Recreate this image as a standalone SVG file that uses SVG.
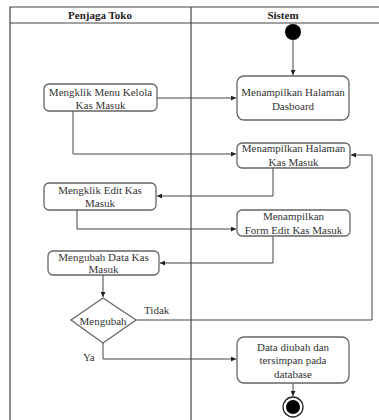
<svg xmlns="http://www.w3.org/2000/svg" width="379" height="420" viewBox="0 0 379 420">
  <style>
    .lane { fill: none; stroke: #444; stroke-width: 1.2; }
    .head { font-family: "Liberation Serif", serif; font-size: 11px; font-weight: bold; fill: #222; text-anchor: middle; }
    .box { fill: #fff; stroke: #666; stroke-width: 1.3; }
    .txt { font-family: "Liberation Serif", serif; font-size: 11px; fill: #333; text-anchor: middle; }
    .lbl { font-family: "Liberation Serif", serif; font-size: 11px; fill: #333; }
    .edge { fill: none; stroke: #444; stroke-width: 1; }
  </style>
  <defs>
    <marker id="arrow" viewBox="0 0 6 6" refX="6" refY="3" markerWidth="5" markerHeight="5" orient="auto">
      <path d="M0,0 L6,3 L0,6 Z" fill="#222"/>
    </marker>
  </defs>
  <rect width="379" height="420" fill="#fff"/>

  <!-- swimlanes -->
  <g id="swimlanes">
    <path class="lane" d="M10,420 V7 H379 M10,23 H379 M191,7 V420"/>
    <text class="head" x="100" y="19">Penjaga Toko</text>
    <text class="head" x="283" y="19">Sistem</text>
  </g>

  <!-- connectors -->
  <g id="connectors">
    <path class="edge" d="M293,40 V75" marker-end="url(#arrow)"/>
    <path class="edge" d="M157,98 H236" marker-end="url(#arrow)"/>
    <path class="edge" d="M73,111 V154 H236" marker-end="url(#arrow)"/>
    <path class="edge" d="M273,168 V196 H157" marker-end="url(#arrow)"/>
    <path class="edge" d="M77,210 V229 H236" marker-end="url(#arrow)"/>
    <path class="edge" d="M273,236 V263 H160" marker-end="url(#arrow)"/>
    <path class="edge" d="M103,275 V297" marker-end="url(#arrow)"/>
    <path class="edge" d="M136,320 H372 V155 H351" marker-end="url(#arrow)"/>
    <path class="edge" d="M103,343 V359 H236" marker-end="url(#arrow)"/>
    <path class="edge" d="M293,383 V396" marker-end="url(#arrow)"/>
    <text class="lbl" x="144" y="314">Tidak</text>
    <text class="lbl" x="83" y="361">Ya</text>
  </g>

  <g id="start">
    <circle cx="293" cy="32" r="8" fill="#000"/>
  </g>

  <g id="tampil-dasboard">
    <rect class="box" x="237" y="76" width="112" height="44" rx="7"/>
    <text class="txt" x="293" y="96">Menampilkan Halaman</text>
    <text class="txt" x="293" y="110">Dasboard</text>
  </g>

  <g id="klik-menu-kelola">
    <rect class="box" x="44" y="84" width="113" height="27" rx="5"/>
    <text class="txt" x="100.5" y="96">Mengklik Menu Kelola</text>
    <text class="txt" x="100.5" y="109">Kas Masuk</text>
  </g>

  <g id="tampil-kas-masuk">
    <rect class="box" x="237" y="143" width="113" height="25" rx="5"/>
    <text class="txt" x="293.5" y="152">Menampilkan Halaman</text>
    <text class="txt" x="293.5" y="166">Kas Masuk</text>
  </g>

  <g id="klik-edit">
    <rect class="box" x="44" y="183" width="112" height="27" rx="5"/>
    <text class="txt" x="100" y="194">Mengklik Edit Kas</text>
    <text class="txt" x="100" y="207">Masuk</text>
  </g>

  <g id="tampil-form-edit">
    <rect class="box" x="237" y="210" width="113" height="26" rx="5"/>
    <text class="txt" x="293.5" y="220">Menampilkan</text>
    <text class="txt" x="293.5" y="234">Form Edit Kas Masuk</text>
  </g>

  <g id="ubah-data">
    <rect class="box" x="48" y="251" width="111" height="24" rx="5"/>
    <text class="txt" x="103.5" y="261">Mengubah Data Kas</text>
    <text class="txt" x="103.5" y="273">Masuk</text>
  </g>

  <g id="keputusan">
    <path class="box" d="M103,298 L136,320 L103,343 L71,320 Z"/>
    <text class="txt" x="103" y="325">Mengubah</text>
  </g>

  <g id="data-tersimpan">
    <rect class="box" x="237" y="337" width="112" height="46" rx="7"/>
    <text class="txt" x="293" y="351">Data diubah dan</text>
    <text class="txt" x="293" y="364">tersimpan pada</text>
    <text class="txt" x="293" y="378">database</text>
  </g>

  <g id="end">
    <circle cx="293" cy="407" r="10" fill="#fff" stroke="#222" stroke-width="1.3"/>
    <circle cx="293" cy="407" r="7" fill="#000"/>
  </g>
</svg>
